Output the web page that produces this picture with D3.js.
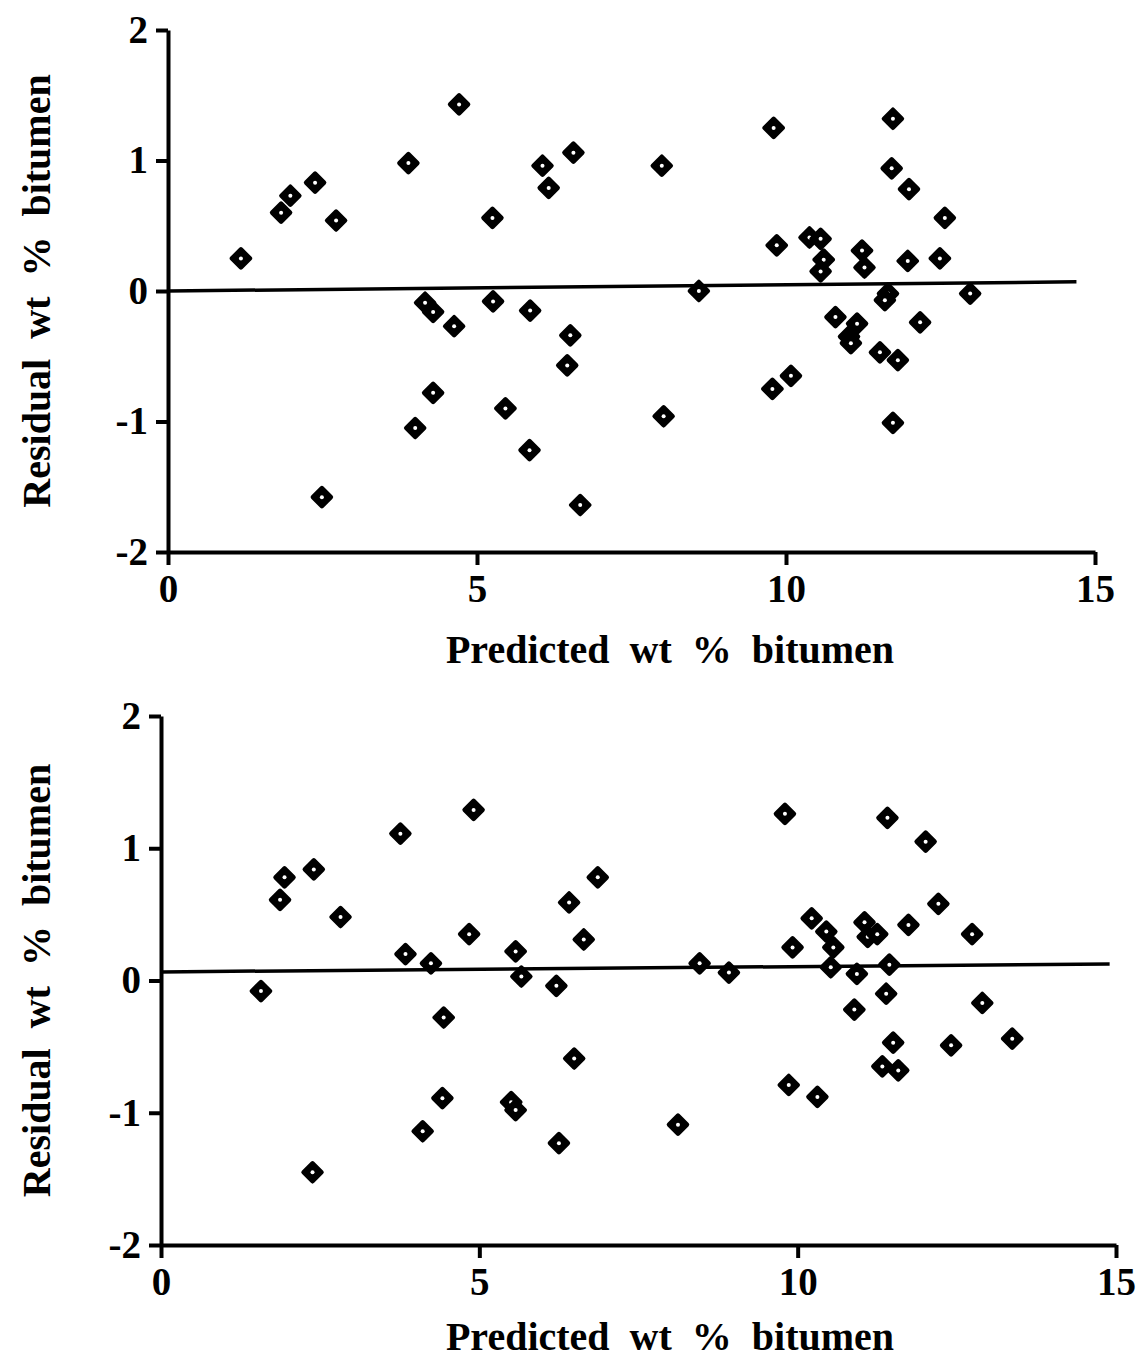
<!DOCTYPE html>
<html>
<head>
<meta charset="utf-8">
<script src="https://cdn.jsdelivr.net/npm/d3@7/dist/d3.min.js"></script>
<style>
  html, body { margin: 0; padding: 0; background: #fff; }
  svg { display: block; }
  text { font-family: "Liberation Serif", "Times New Roman", serif; font-weight: bold; fill: #000; }
</style>
</head>
<body>
<svg id="chart" width="1144" height="1359"></svg>
<script>
// Residuals vs predicted bitumen content, two calibration models
const xTicks = [0, 5, 10, 15];
const yTicks = [-2, -1, 0, 1, 2];
const yTickLabels = ["-2", "-1", "0", "1", "2"];
const xTitle = "Predicted  wt  %  bitumen";
const yTitle = "Residual  wt  %  bitumen";

// Upper panel
const topPredicted = [1.18, 1.83, 1.98, 2.38, 2.72, 2.49, 3.89, 4.71, 4.16, 4.29, 4.63, 4.29, 4.00,
  5.25, 5.26, 5.46, 5.86, 5.85, 6.06, 6.16, 6.56, 6.51, 6.46, 6.67, 7.99, 8.02, 8.59,
  9.80, 9.85, 9.78, 10.08, 10.38, 10.56, 10.61, 10.56, 10.80, 11.23, 11.27, 11.15, 11.02, 11.05,
  11.52, 11.81, 11.73, 11.71, 11.99, 12.57, 11.97, 12.49, 11.65, 11.60, 12.98, 12.17, 11.73];
const topResidual = [0.25, 0.60, 0.73, 0.83, 0.54, -1.58, 0.98, 1.43, -0.09, -0.16, -0.27, -0.78, -1.05,
  0.56, -0.08, -0.90, -0.15, -1.22, 0.96, 0.79, 1.06, -0.34, -0.57, -1.64, 0.96, -0.96, 0.00,
  1.25, 0.35, -0.75, -0.65, 0.41, 0.40, 0.24, 0.15, -0.20, 0.31, 0.18, -0.25, -0.35, -0.40,
  -0.47, -0.53, 1.32, 0.94, 0.78, 0.56, 0.23, 0.25, -0.02, -0.07, -0.02, -0.24, -1.01];
const topFitX = [0, 14.7];
const topFitY = [0, 0.07];

// Lower panel
const botPredicted = [1.57, 1.87, 1.94, 2.40, 2.82, 2.38, 3.76, 3.84, 4.24, 4.44, 4.42, 4.11,
  4.91, 4.84, 5.57, 5.66, 5.50, 5.57, 6.21, 6.25, 6.41, 6.64, 6.49, 6.86, 8.46, 8.92, 8.12,
  9.80, 9.92, 9.86, 10.22, 10.45, 10.56, 10.52, 10.31, 10.93, 10.89, 11.05, 11.10, 11.25,
  11.41, 11.44, 11.39, 11.50, 11.33, 11.58, 11.74, 12.01, 12.21, 12.41, 12.74, 12.90, 13.37];
const botResidual = [-0.08, 0.61, 0.78, 0.84, 0.48, -1.45, 1.11, 0.20, 0.13, -0.28, -0.89, -1.14,
  1.29, 0.35, 0.22, 0.03, -0.92, -0.98, -0.04, -1.23, 0.59, 0.31, -0.59, 0.78, 0.13, 0.06, -1.09,
  1.26, 0.25, -0.79, 0.47, 0.37, 0.25, 0.10, -0.88, 0.05, -0.22, 0.44, 0.33, 0.35,
  1.23, 0.12, -0.10, -0.47, -0.65, -0.68, 0.42, 1.05, 0.58, -0.49, 0.35, -0.17, -0.44];
const botFitX = [0, 14.9];
const botFitY = [0.065, 0.125];

const panels = [
  { xs: topPredicted, ys: topResidual, fx: topFitX, fy: topFitY,
    xr: [168, 1095], yr: [552, 30], xTitleY: 663, yTitleX: 50 },
  { xs: botPredicted, ys: botResidual, fx: botFitX, fy: botFitY,
    xr: [161, 1116], yr: [1245, 716], xTitleY: 1350, yTitleX: 50 }
];

const svg = d3.select("#chart");

// Rounded diamond marker with a pinhole centre
const diamond = "M0,-9 L9,0 L0,9 L-9,0 Z";

panels.forEach(p => {
  const x = d3.scaleLinear().domain([0, 15]).range(p.xr);
  const y = d3.scaleLinear().domain([-2, 2]).range(p.yr);
  const g = svg.append("g");

  // y axis
  const ya = g.append("g")
    .attr("transform", `translate(${p.xr[0]},0)`)
    .call(d3.axisLeft(y).tickValues(yTicks).tickFormat((d, i) => yTickLabels[i])
      .tickSize(12).tickSizeOuter(0).tickPadding(8));
  // x axis
  const xa = g.append("g")
    .attr("transform", `translate(0,${p.yr[0]})`)
    .call(d3.axisBottom(x).tickValues(xTicks).tickFormat(d3.format("d"))
      .tickSize(13).tickSizeOuter(0).tickPadding(9));

  [ya, xa].forEach(a => {
    a.select(".domain").attr("stroke", "#000").attr("stroke-width", 4);
    a.selectAll(".tick line").attr("stroke", "#000").attr("stroke-width", 4);
    a.selectAll(".tick text").style("font-size", "39px")
      .style("font-family", "'Liberation Serif', serif").style("font-weight", "bold");
  });

  // fitted line through the residuals
  g.append("line")
    .attr("x1", x(p.fx[0])).attr("y1", y(p.fy[0]))
    .attr("x2", x(p.fx[1])).attr("y2", y(p.fy[1]))
    .attr("stroke", "#000").attr("stroke-width", 3.5);

  // points
  const pts = g.append("g").selectAll("g")
    .data(p.xs.map((v, i) => [v, p.ys[i]]))
    .join("g")
    .attr("transform", d => `translate(${x(d[0])},${y(d[1])})`);
  pts.append("path").attr("d", diamond)
    .attr("fill", "#000").attr("stroke", "#000")
    .attr("stroke-width", 4.5).attr("stroke-linejoin", "round");
  pts.append("circle").attr("r", 2).attr("fill", "#fff");

  // titles
  g.append("text")
    .attr("x", 670).attr("y", p.xTitleY)
    .attr("text-anchor", "middle").style("font-size", "40px")
    .style("white-space", "pre").attr("xml:space", "preserve")
    .text(xTitle);
  g.append("text")
    .attr("transform", `translate(${p.yTitleX},${(p.yr[0] + p.yr[1]) / 2}) rotate(-90)`)
    .attr("text-anchor", "middle").style("font-size", "40px")
    .style("white-space", "pre").attr("xml:space", "preserve")
    .text(yTitle);
});
</script>
</body>
</html>
